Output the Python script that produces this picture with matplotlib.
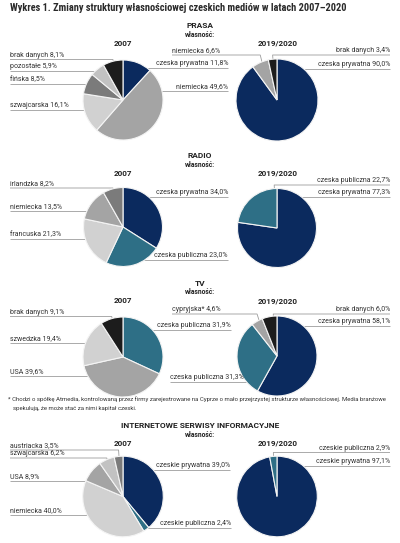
import matplotlib
matplotlib.use("Agg")
import matplotlib.pyplot as plt
import numpy as np
from matplotlib import font_manager

# shares in %, listed clockwise from 12 o'clock
prasa_2007_labels = ["czeska prywatna", "niemiecka", "szwajcarska", "fińska", "pozostałe", "brak danych"]
prasa_2007_values = [11.8, 49.6, 16.1, 8.5, 5.9, 8.1]
prasa_2019_labels = ["czeska prywatna", "niemiecka", "brak danych"]
prasa_2019_values = [90.0, 6.6, 3.4]

radio_2007_labels = ["czeska prywatna", "czeska publiczna", "francuska", "niemiecka", "irlandzka"]
radio_2007_values = [34.0, 23.0, 21.3, 13.5, 8.2]
radio_2019_labels = ["czeska prywatna", "czeska publiczna"]
radio_2019_values = [77.3, 22.7]

tv_2007_labels = ["czeska publiczna", "USA", "szwedzka", "brak danych"]
tv_2007_values = [31.9, 39.6, 19.4, 9.1]
tv_2019_labels = ["czeska prywatna", "czeska publiczna", "cypryjska*", "brak danych"]
tv_2019_values = [58.1, 31.3, 4.6, 6.0]

net_2007_labels = ["czeskie prywatna", "czeskie publiczna", "niemiecka", "USA", "szwajcarska", "austriacka"]
net_2007_values = [39.0, 2.4, 40.0, 8.9, 6.2, 3.5]
net_2019_labels = ["czeskie prywatna", "czeskie publiczna"]
net_2019_values = [97.1, 2.9]

title = "Wykres 1. Zmiany struktury własnościowej czeskich mediów w latach 2007–2020"
footnote = [
    "* Chodzi o spółkę Atmedia, kontrolowaną przez firmy zarejestrowane na Cyprze o mało przejrzystej strukturze własnościowej. Media branżowe",
    "spekulują, że może stać za nimi kapitał czeski.",
]

NAVY = "#0b2a5e"
TEAL = "#2e6f86"
BLACK = "#1c1c1c"
G1 = "#7b7b7b"
G2 = "#a4a4a4"
G3 = "#c2c2c2"
G4 = "#d1d1d1"
LINE = "#9c9c9c"
TXT = "#333333"

installed = {f.name for f in font_manager.fontManager.ttflist}


def pick(*names):
    for n in names:
        if n in installed:
            return n
    return "DejaVu Sans"


FONT = pick("Roboto", "Lato", "DejaVu Sans")
TITLE_FONT = pick("Roboto Condensed", "Liberation Sans Narrow", "Roboto")


def fmt(label, value):
    return f"{label} {value:.1f}%".replace(".", ",")


def draw_pie(ax, labels, values, colors, cx, cy, r, placements):
    ax.pie(values, colors=colors, center=(cx, cy), radius=r, startangle=-90,
           counterclock=True, frame=True,
           wedgeprops=dict(edgecolor="#f4f4f4", linewidth=0.8))
    bounds = np.concatenate([[0], np.cumsum(values)]) / np.sum(values)
    for idx, side, x, y, frac in placements:
        t = bounds[idx] + frac * (bounds[idx + 1] - bounds[idx])
        ang = 2 * np.pi * t
        if abs(y - cy) < 0.92 * r:
            xs, ys = [x, cx], [y, y]
        else:
            ex, ey = cx + r * np.sin(ang), cy - r * np.cos(ang)
            px, py = cx + 0.75 * r * np.sin(ang), cy - 0.75 * r * np.cos(ang)
            xs, ys = [x, ex, px], [y, y, py]
        ax.plot(xs, ys, color=LINE, lw=0.6, zorder=0.5, solid_capstyle="butt")
        ax.text(x, y - 0.7, fmt(labels[idx], values[idx]),
                ha="left" if side == "L" else "right", va="bottom",
                fontsize=5.0, color=TXT, family=FONT, zorder=3)


def headers(ax, name, y):
    ax.text(200, y, name, ha="center", va="center", fontsize=6.0,
            fontweight="bold", color="#222222", family=FONT)
    ax.text(200, y + 9, "własność:", ha="center", va="center", fontsize=4.8,
            fontweight="bold", color="#222222", family=FONT)
    ax.text(123, y + 17.5, "2007", ha="center", va="center", fontsize=5.8,
            fontweight="bold", color="#222222", family=FONT)
    ax.text(278, y + 17.5, "2019/2020", ha="center", va="center", fontsize=5.8,
            fontweight="bold", color="#222222", family=FONT)


fig = plt.figure(figsize=(4, 5.43), dpi=100)
ax = fig.add_axes([0, 0, 1, 1])

ax.text(10, 8, title, ha="left", va="center", fontsize=7.5, fontweight="bold",
        color="#2a2a2a", family=TITLE_FONT)

# PRASA
headers(ax, "PRASA", 26)
draw_pie(ax, prasa_2007_labels, prasa_2007_values, [NAVY, G2, G4, G1, G3, BLACK],
         123, 100, 40,
         [(5, "L", 10, 59.5, 0.5), (4, "L", 10, 71, 0.5), (3, "L", 10, 84, 0.5),
          (2, "L", 10, 109.5, 0.5), (0, "R", 228, 67.5, 0.5), (1, "R", 228, 90.5, 0.5)])
draw_pie(ax, prasa_2019_labels, prasa_2019_values, [NAVY, G2, BLACK],
         277, 100, 41,
         [(1, "L", 172, 55, 0.5), (2, "R", 390, 55, 0.5), (0, "R", 390, 68.5, 0.5)])

# RADIO
headers(ax, "RADIO", 156)
draw_pie(ax, radio_2007_labels, radio_2007_values, [NAVY, TEAL, G4, G2, G1],
         123, 227, 39.5,
         [(4, "L", 10, 188, 0.5), (3, "L", 10, 211, 0.5), (2, "L", 10, 239, 0.5),
          (0, "R", 228, 196.5, 0.5), (1, "R", 228, 260, 0.5)])
draw_pie(ax, radio_2019_labels, radio_2019_values, [NAVY, TEAL],
         277, 228, 39.5,
         [(1, "R", 390, 185, 0.95), (0, "R", 390, 197, 0.5)])

# TV
headers(ax, "TV", 283)
draw_pie(ax, tv_2007_labels, tv_2007_values, [TEAL, G2, G4, BLACK],
         123, 357, 40,
         [(3, "L", 10, 316.5, 0.5), (2, "L", 10, 343, 0.5), (1, "L", 10, 376, 0.5),
          (0, "R", 231, 330, 0.5)])
draw_pie(ax, tv_2019_labels, tv_2019_values, [NAVY, TEAL, G2, BLACK],
         277, 356, 40,
         [(2, "L", 172, 314, 0.5), (3, "R", 390, 314, 0.75), (0, "R", 390, 326, 0.5),
          (1, "L", 170, 382, 0.5)])

ax.text(8, 399, footnote[0], ha="left", va="center", fontsize=4.3, color=TXT, family=FONT)
ax.text(13, 408.5, footnote[1], ha="left", va="center", fontsize=4.3, color=TXT, family=FONT)

# INTERNET
headers(ax, "INTERNETOWE SERWISY INFORMACYJNE", 426)
draw_pie(ax, net_2007_labels, net_2007_values, [NAVY, TEAL, G4, G2, G3, G1],
         123, 496.5, 40.3,
         [(5, "L", 10, 450, 0.5), (4, "L", 10, 458, 0.5), (3, "L", 10, 481, 0.5),
          (2, "L", 10, 514.5, 0.5), (0, "R", 230, 469.5, 0.5), (1, "R", 231, 527.5, 0.5)])
draw_pie(ax, net_2019_labels, net_2019_values, [NAVY, TEAL],
         277, 496.5, 40.3,
         [(1, "R", 390, 452.5, 0.5), (0, "R", 390, 465.5, 0.5)])

ax.set_xlim(0, 400)
ax.set_ylim(543, 0)
ax.set_aspect("auto")
ax.axis("off")

fig.savefig("out.png", dpi=100)
